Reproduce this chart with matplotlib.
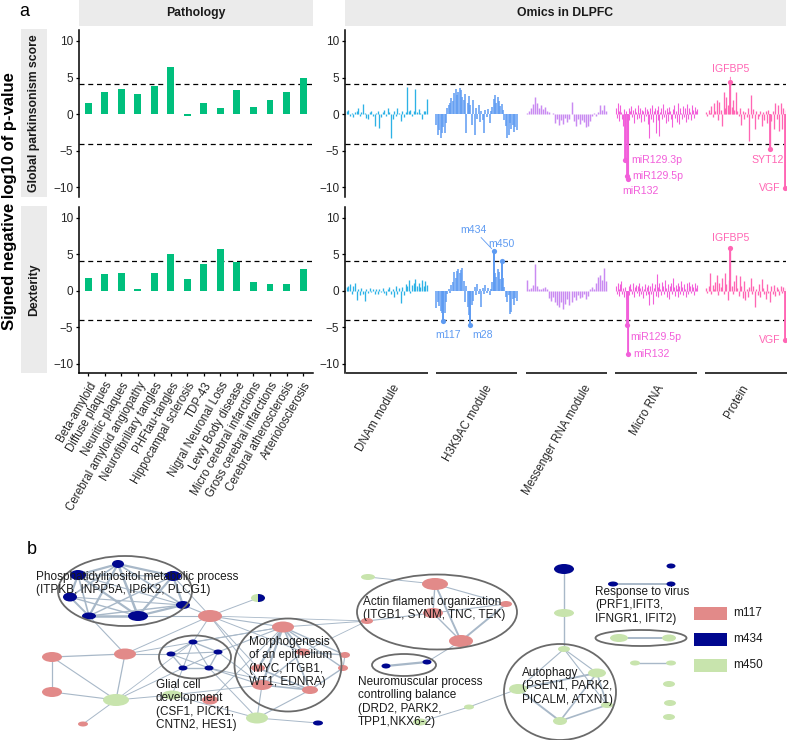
import matplotlib
matplotlib.use('Agg')
import matplotlib.pyplot as plt
import matplotlib.transforms as mtransforms
import numpy as np
from matplotlib.patches import Ellipse, Rectangle

plt.rcParams['font.family'] = ['Liberation Sans', 'DejaVu Sans']

# ---------------- DATA ----------------
pathology_categories = ["Beta-amyloid", "Diffuse plaques", "Neuritic plaques",
                        "Cerebral amyloid angiopathy", "Neurofibrillary tangles",
                        "PHFtau-tangles", "Hippocampal sclerosis", "TDP-43",
                        "Nigral Neuronal Loss", "Lewy Body disease",
                        "Micro cerebral infarctions", "Gross cerebral infarctions",
                        "Cerebral atherosclerosis", "Arteriolosclerosis"]
pathology_global = [1.57, 3.0, 3.4, 2.8, 3.8, 6.5, -0.2, 1.6, 0.9, 3.3, 1.0, 2.0, 3.0, 5.0]
pathology_dexterity = [1.7, 2.3, 2.5, 0.25, 2.4, 5.0, 1.55, 3.7, 5.7, 3.9, 1.25, 0.9, 0.95, 3.0]

omics_groups = ["DNAm module", "H3K9AC module", "Messenger RNA module", "Micro RNA", "Protein"]

dnam_global = [0.4, 0.6, -0.3, 0.2, -0.4, 0.3, 0.5, 0.9, -0.2, 0.3,
               1.4, 0.2, -0.5, -0.7, 0.3, 0.4, -0.3, -1.6, 0.2, 0.5,
               -1.9, -0.4, 0.3, 0.6, -0.2, 0.8, 0.3, -3.3, -0.6, 0.4,
               -0.3, 0.9, 0.2, -0.9, 0.5, -0.4, 0.3, 3.7, 0.4, 0.6,
               -0.3, 0.5, 3.4, 0.3, 0.7, 0.2, -0.6, 0.5, 0.4, 2.1]
dnam_dexterity = [0.5, 0.7, 0.9, -0.4, 0.6, 1.0, -1.3, 0.3, -0.6, 0.4,
                  -0.5, -1.4, 0.2, -0.3, 0.4, -0.2, 0.3, -0.4, 0.2, -0.5,
                  0.3, -0.2, 0.4, -0.3, -0.6, 0.2, 0.5, -0.4, 0.3, -0.8,
                  0.6, -0.5, 0.4, -1.7, 0.5, -0.6, 0.9, 0.7, 1.5, -0.3,
                  0.8, 1.1, 1.6, 0.6, 1.0, 0.5, 1.5, 0.7, 1.3, 0.8]
h3k9ac_global = [-1.5, -2.8, -2.2, -3.2, -2.5, -1.8, -2.6, -1.2, 0.8, 1.2,
                 1.5, 2.2, 1.8, 2.9, 3.4, 2.6, 3.1, 3.6, 3.3, 2.4,
                 2.0, 2.7, -2.6, 1.6, 2.5, 1.2, -1.5, 2.0, -2.8, 0.8,
                 -0.6, 1.2, -1.0, 0.5, -0.8, -2.5, 0.6, -0.4, 0.7, -1.2,
                 0.5, 1.0, 2.1, 2.6, 1.6, 2.3, 1.8, 1.1, 1.4, 0.6,
                 -0.8, -1.6, -3.3, -2.9, -1.2, -2.0, -1.5, -2.4, -1.8, -2.2]
h3k9ac_dexterity = [-2.4, -1.5, -2.1, -2.8, -3.0, -4.1, -3.1, -1.6, -0.4, 0.3,
                    -0.3, 0.8, 1.2, 2.6, 1.8, 2.7, 3.0, 2.4, 2.8, 3.1,
                    1.4, -1.5, 0.6, -2.2, -3.3, -4.7, -2.0, -1.4, 0.5, -0.6,
                    0.9, -0.4, 0.3, -2.3, 0.4, -0.5, 0.8, -0.3, 0.4, -0.6,
                    0.3, 1.2, 5.5, 2.5, 1.9, 3.0, 2.6, 1.6, 4.1, 1.8,
                    0.5, -0.8, -1.5, -0.6, -3.2, -2.9, -1.2, -2.0, -1.0, -1.4]
mrna_global = [0.2, 0.5, 0.9, 1.4, 2.3, 1.6, 0.8, 1.3, 0.7, 1.0,
               0.5, 0.3, 0.1, 0.2, -1.2, -0.6, -1.5, -0.8, -1.3, -0.5,
               -1.1, -0.7, 1.7, -0.9, -1.6, -0.6, -1.3, -0.8, -1.1, -1.8,
               -1.6, -0.9, -0.3, 0.2, -0.2, 0.3, 1.3, 0.6, 1.3, 0.5]
mrna_dexterity = [1.5, 0.3, 0.4, 0.8, 3.7, 0.7, 0.2, 0.3, 0.4, 0.5,
                  0.3, -1.0, -1.4, -0.9, -1.5, -1.9, -2.2, -1.6, -2.5, -1.8,
                  -1.2, -2.0, -1.6, -0.9, -1.3, -0.6, -1.0, -0.8, -0.4, -1.1,
                  -0.7, 0.3, 0.5, 0.2, 1.1, 1.9, 2.2, 1.5, 3.1, 1.4]
mirna_global = [0.8, -0.5, 1.6, 0.4, -0.9, 1.2, 0.3, -0.6, -1.6, 0.7,
                -6.3, 0.5, -8.5, -8.9, 0.9, -0.8, 0.4, 1.1, -0.4, 0.6,
                -1.2, 0.9, 0.3, -0.7, 1.3, 0.2, -0.5, 0.8, -1.0, 0.6,
                0.4, -0.9, 1.0, -0.3, 0.7, -1.4, 0.5, -3.3, 0.9, -0.6,
                1.2, -1.1, 0.4, 0.8, -2.6, 0.6, -0.8, 1.1, -3.0, 0.3,
                0.9, -0.7, 1.4, -0.4, 0.6, -1.2, 0.8, 0.3, -0.9, 1.0,
                0.5, -0.6, -1.8, 0.7, 1.3, -0.5, 0.4, -1.0, 1.5, 0.6,
                -1.3, 0.9, 0.2, -0.7, 1.1, -0.4, 0.8, -1.1, 0.5, 1.4,
                -0.6, 0.9, 0.3, -0.8, 1.2, 0.6, -0.5, 1.0, 0.4, 0.7]
mirna_dexterity = [0.6, -0.4, 1.0, 0.3, -0.7, 0.9, 1.3, -0.5, 0.4, -0.8,
                   0.5, -1.2, -4.7, -8.7, 0.7, -0.6, 0.9, 0.3, -0.4, 1.1,
                   -0.9, 0.5, 0.8, -0.3, 0.6, -0.7, 1.0, 0.4, -0.5, 0.7,
                   -1.0, 0.3, 0.9, -0.6, 0.5, -0.4, 0.8, -2.0, 0.6, -0.5,
                   1.1, -1.8, 0.4, 0.9, -0.7, 2.3, 0.5, -0.9, 1.0, 0.3,
                   -0.6, 1.2, 0.7, -0.4, 1.5, 0.4, -0.8, 0.9, 0.2, -1.1,
                   0.6, 1.0, -0.5, 1.8, 0.5, -0.7, 0.8, 0.3, -0.9, 1.1,
                   0.6, -0.4, 1.3, 0.5, -0.6, 0.9, 0.3, -0.8, 1.0, 0.4,
                   -0.5, 1.2, 0.7, -0.3, 0.9, 0.5, -0.6, 1.1, 0.4, 0.8]
protein_global = [0.3, -0.2, 0.6, 0.2, 1.1, -0.4, 1.6, 0.5, 2.0, -0.8,
                  1.7, 0.6, -1.6, 3.1, 0.9, 2.4, 1.2, 0.4, 4.35, 1.0,
                  2.0, 0.6, 3.1, 0.5, -0.3, 0.8, -1.5, 0.4, -0.6, 0.3,
                  -0.4, 0.8, -3.6, 2.6, -0.5, 0.7, -2.0, 0.4, -0.7, -0.3,
                  0.5, -1.6, 0.3, -0.8, 0.4, -1.2, 0.6, -4.7, -0.9, 0.5,
                  -2.0, 1.5, -0.6, 1.3, -2.3, 1.5, -2.0, 0.8, -10.1, 0.6]
protein_dexterity = [0.4, -0.3, 0.6, 2.5, -0.5, 0.8, 0.3, 1.2, 2.2, -0.6,
                     1.0, 0.5, 1.8, -0.4, 2.5, 0.9, -1.3, 1.5, 5.8, 0.7,
                     -0.5, 1.4, 2.1, 0.4, -0.7, 2.0, 0.6, -1.0, 1.3, -1.3,
                     0.3, -0.8, 0.5, 1.8, -0.4, 0.6, -2.2, 0.3, -0.6, 0.9,
                     -0.9, 1.6, 0.4, -0.5, -1.2, 0.9, -0.3, -1.5, 0.6, -0.4,
                     0.8, -0.7, 0.5, 0.3, -0.6, 0.7, -0.3, 0.5, -6.7, 0.4]

omics_global = [dnam_global, h3k9ac_global, mrna_global, mirna_global, protein_global]
omics_dexterity = [dnam_dexterity, h3k9ac_dexterity, mrna_dexterity, mirna_dexterity, protein_dexterity]

# labelled features: (group index, feature index, name)
labels_global = [(3, 10, "miR129.3p"), (3, 12, "miR129.5p"), (3, 13, "miR132"),
                 (4, 18, "IGFBP5"), (4, 47, "SYT12"), (4, 58, "VGF")]
labels_dexterity = [(1, 42, "m434"), (1, 48, "m450"), (1, 5, "m117"), (1, 25, "m28"),
                    (3, 12, "miR129.5p"), (3, 13, "miR132"),
                    (4, 18, "IGFBP5"), (4, 58, "VGF")]

significance_threshold = 4.08

# network (panel b)
node_x = [118, 78, 173, 70, 183, 89, 138, 193, 171, 218, 183, 209, 52, 125, 52, 83, 116, 172, 210, 257,
          318, 210, 258, 283, 345, 343, 262, 310, 303, 258, 368, 367, 435, 433, 506, 461, 386, 427, 469, 420,
          564, 597, 518, 607, 560, 564, 564, 671, 613, 671, 619, 669, 635, 671, 669, 670, 669]
node_y = [564, 575, 576, 597, 605, 616, 616, 642, 654, 652, 668, 668, 657, 654, 692, 724, 700, 695, 700, 718,
          723, 616, 598, 627, 655, 668, 685, 690, 652, 668, 577, 621, 584, 613, 604, 641, 666, 662, 707, 722,
          649, 673, 689, 705, 721, 569, 613, 566, 584, 584, 638, 638, 663, 663, 684, 703, 717]
node_w = [12, 16, 16, 14, 14, 14, 20, 9, 9, 9, 9, 9, 20, 22, 20, 10, 26, 20, 16, 22,
          10, 24, 14, 22, 10, 10, 20, 16, 14, 14, 14, 12, 26, 20, 12, 24, 9, 9, 10, 14,
          12, 18, 18, 12, 14, 20, 20, 9, 10, 9, 18, 14, 10, 10, 12, 12, 12]
node_h = [8, 10, 10, 9, 8, 7, 10, 5, 5, 5, 5, 5, 10, 11, 10, 5, 12, 9, 9, 11,
          5, 12, 8, 11, 6, 6, 10, 8, 7, 7, 6, 6, 12, 10, 6, 12, 5, 5, 5, 7,
          6, 9, 10, 6, 8, 10, 8, 5, 5, 5, 8, 7, 5, 5, 6, 6, 6]
node_module = ["m434"] * 12 + ["m117", "m117", "m117", "m117", "m450", "m450", "m117", "m450",
               "m434", "m117", "mix", "m117", "m117", "m117", "m117", "m117", "m117", "m117",
               "m450", "m117", "m117", "m117", "m117", "m117", "m434", "m434", "m450", "m450",
               "m450", "m450", "m450", "m450", "m450", "m434", "m450", "m434", "m434", "m434",
               "m450", "m450", "m450", "m450", "m450", "m450", "m450"]
network_edges = [(0, 1, 1.6), (0, 2, 1.6), (0, 3, 1.2), (0, 4, 1.2), (0, 5, 1.6), (0, 6, 1.8),
                 (1, 3, 1.6), (1, 5, 1.2), (1, 6, 1.6), (1, 2, 1.0), (2, 4, 1.6), (2, 6, 1.6),
                 (2, 5, 1.0), (3, 5, 1.4), (3, 6, 1.0), (4, 6, 1.6), (4, 5, 1.0), (5, 6, 1.8),
                 (3, 4, 0.8), (1, 4, 0.8),
                 (4, 21, 0.8), (6, 21, 0.8), (2, 21, 0.7), (5, 13, 0.8),
                 (7, 8, 1.0), (7, 9, 1.0), (7, 10, 0.8), (7, 11, 0.8), (8, 10, 1.0), (8, 11, 0.8),
                 (9, 11, 1.0), (9, 10, 0.8), (8, 9, 0.8), (10, 11, 1.0),
                 (8, 13, 0.8), (10, 16, 0.7), (11, 19, 0.7), (9, 23, 0.8), (7, 21, 0.7),
                 (11, 26, 0.8), (10, 17, 0.7), (7, 23, 0.7), (9, 26, 0.7), (11, 27, 0.7),
                 (12, 13, 0.9), (12, 14, 0.9), (12, 16, 0.8), (13, 16, 0.9), (14, 16, 0.8),
                 (15, 16, 0.7), (13, 21, 0.7), (13, 23, 0.7), (16, 17, 0.7), (16, 7, 0.6),
                 (23, 26, 1.6), (23, 27, 1.2), (23, 24, 1.0), (23, 25, 1.0), (23, 28, 1.4),
                 (23, 29, 1.6), (26, 27, 1.2), (28, 24, 1.0), (29, 27, 1.2), (24, 25, 0.8),
                 (26, 28, 1.0), (27, 25, 1.0),
                 (21, 23, 0.8), (21, 26, 0.7), (21, 28, 0.7), (21, 29, 0.7), (22, 21, 0.7),
                 (23, 31, 0.7), (21, 31, 0.6), (28, 31, 0.6), (30, 32, 0.7),
                 (19, 26, 0.8), (19, 27, 0.8), (19, 20, 0.7), (17, 26, 0.7), (17, 19, 0.7),
                 (18, 23, 0.7),
                 (32, 33, 1.0), (32, 34, 0.8), (32, 35, 1.4), (33, 35, 1.0), (34, 35, 1.4),
                 (33, 34, 0.7), (31, 33, 0.8), (35, 37, 0.7), (36, 37, 1.6),
                 (38, 42, 0.7), (39, 38, 0.7), (42, 41, 1.4), (42, 40, 0.8), (40, 41, 0.8),
                 (40, 43, 0.8), (41, 44, 1.2), (42, 44, 1.4), (43, 44, 1.2), (41, 43, 1.2),
                 (40, 46, 1.0), (46, 45, 1.0), (48, 49, 1.4), (50, 51, 1.4), (52, 53, 1.0)]
cluster_cx = [125, 195, 288, 437, 404, 560, 641]
cluster_cy = [591, 657, 665, 612, 665, 692, 638]
cluster_w = [134, 72, 107, 160, 64, 112, 91]
cluster_h = [70, 43, 93, 75, 22, 96, 16]
cluster_text = ["Phosphatidylinositol metabolic process\n(ITPKB, INPP5A, IP6K2, PLCG1)",
                "Glial cell\ndevelopment\n(CSF1, PICK1,\nCNTN2, HES1)",
                "Morphogenesis\nof an epithelium\n(MYC, ITGB1,\nWT1, EDNRA)",
                "Actin filament organization\n(ITGB1, SYNM, TNC, TEK)",
                "Neuromuscular process\ncontrolling balance\n(DRD2, PARK2,\nTPP1,NKX6-2)",
                "Autophagy\n(PSEN1, PARK2,\nPICALM, ATXN1)",
                "Response to virus\n(PRF1,IFIT3,\nIFNGR1, IFIT2)"]
cluster_text_x = [36, 156, 249, 363, 358, 522, 595]
cluster_text_y = [578, 686, 643, 603, 683, 674, 593]
legend_modules = ["m117", "m434", "m450"]

# ---------------- STYLE ----------------
W, H = 790, 740
PATH_COLOR = '#00BF7D'
GROUP_COLORS = ['#2DB2E6', '#5E9BF2', '#C98AF2', '#F25FDA', '#FF66B4']
LINE_W = [0.95, 1.1, 1.05, 0.8, 0.95]
GAP = 0.1
STRIP = '#EBEBEB'
TICK_COL = '#262626'
MOD_COLORS = {'m117': '#E28A89', 'm434': '#00078F', 'm450': '#C8E4AD'}
EDGE_COLOR = '#A8B8C8'
YLIM = (-11.3, 11.5)

fig = plt.figure(figsize=(W / 100, H / 100), dpi=100)


def px_box(x0, y0, x1, y1):
    return [x0 / W, 1 - y1 / H, (x1 - x0) / W, (y1 - y0) / H]


def strip(box, text, rotation=0):
    a = fig.add_axes(px_box(*box))
    a.set_facecolor(STRIP)
    a.set_xticks([])
    a.set_yticks([])
    for s in a.spines.values():
        s.set_visible(False)
    a.text(0.5, 0.5, text, rotation=rotation, ha='center', va='center',
           fontsize=8.8, fontweight='bold', color='#1A1A1A', transform=a.transAxes)


def base_style(ax):
    ax.set_ylim(*YLIM)
    ax.set_yticks([-10, -5, 0, 5, 10])
    ax.spines['top'].set_visible(False)
    ax.spines['right'].set_visible(False)
    ax.spines['left'].set_linewidth(1.1)
    ax.spines['bottom'].set_linewidth(1.1)
    ax.tick_params(axis='y', length=2.5, width=0.9, pad=1.5, labelsize=8.5, labelcolor=TICK_COL)
    ax.patch.set_alpha(0)
    for t in (significance_threshold, -significance_threshold):
        ax.axhline(t, color='black', lw=0.9, ls=(0, (4, 3)), zorder=0.5)


strip((79, 0, 313, 26), "Pathology")
strip((345, 0, 786, 26), "Omics in DLPFC")

rows = [("Global parkinsonism score", pathology_global, omics_global, labels_global, 30, 197),
        ("Dexterity", pathology_dexterity, omics_dexterity, labels_dexterity, 207, 373)]

label_style = {
    0: {"miR129.3p": (6, 0, 'left', False), "miR129.5p": (6, 0, 'left', False),
        "miR132": (-5, 12, 'left', False), "IGFBP5": (0, -13, 'center', True),
        "SYT12": (-2, 11, 'center', False), "VGF": (-4, 0, 'right', False)},
    1: {"m434": (-20, -21, 'center', True), "m450": (0, -17, 'center', False),
        "m117": (5, 14, 'center', False), "m28": (12, 10, 'center', False),
        "miR129.5p": (4, 12, 'left', False), "miR132": (6, 0, 'left', False),
        "IGFBP5": (0, -10, 'center', False), "VGF": (-4, 0, 'right', False)},
}

for r, (row_name, pvals, ovals, labs, top, bot) in enumerate(rows):
    strip((21, top - 1, 47, bot), row_name, rotation=90)

    # pathology panel
    axL = fig.add_axes(px_box(79, top, 313, bot))
    xs = np.arange(len(pathology_categories))
    axL.bar(xs, pvals, width=0.42, color=PATH_COLOR, linewidth=0, zorder=2)
    axL.set_xlim(-0.55, 13.6)
    base_style(axL)
    if r == 0:
        axL.spines['bottom'].set_visible(False)
        axL.set_xticks([])
    else:
        axL.set_xticks(xs)
        axL.set_xticklabels(pathology_categories, rotation=60, ha='right', va='top',
                            rotation_mode='anchor')
        axL.tick_params(axis='x', length=2.5, width=0.9, pad=2.5, labelsize=8.3,
                        labelcolor=TICK_COL)

    # omics panel
    axR = fig.add_axes(px_box(345, top, 786, bot))
    base_style(axR)
    axR.spines['bottom'].set_visible(False)
    centers = []
    positions = []
    for g, vals in enumerate(ovals):
        n = len(vals)
        start = g * (1 + GAP)
        x = start + (np.arange(n) + 0.5) / n
        positions.append(x)
        centers.append(start + 0.5)
        axR.vlines(x, 0, vals, color=GROUP_COLORS[g], lw=LINE_W[g], zorder=2)
        if r == 1:
            trans = mtransforms.blended_transform_factory(axR.transData, axR.transAxes)
            axR.plot([start, start + 1], [0, 0], transform=trans, color='black', lw=1.1,
                     clip_on=False, solid_capstyle='butt')
    axR.set_xlim(-0.012, 5 * (1 + GAP) - GAP - 0.01)

    for g, i, name in labs:
        xv = positions[g][i]
        yv = ovals[g][i]
        c = GROUP_COLORS[g]
        axR.vlines(xv, 0, yv, color=c, lw=1.3, zorder=3)
        axR.scatter([xv], [yv], s=14, color=c, zorder=4, linewidths=0)
        dx, dy, ha, leader = label_style[r][name]
        kw = {}
        if leader:
            kw['arrowprops'] = dict(arrowstyle='-', color=c, lw=0.6, shrinkA=0, shrinkB=2)
        axR.annotate(name, (xv, yv), xytext=(dx, -dy), textcoords='offset pixels',
                     ha=ha, va='center', fontsize=7.6, color=c, zorder=5, **kw)

    if r == 0:
        axR.set_xticks([])
    else:
        axR.set_xticks(centers)
        axR.set_xticklabels(omics_groups, rotation=60, ha='center', va='top')
        axR.tick_params(axis='x', length=0, pad=7, labelsize=8.3, labelcolor=TICK_COL)
        off = mtransforms.ScaledTranslation(-9 / 100, 0, fig.dpi_scale_trans)
        for lbl in axR.get_xticklabels():
            lbl.set_transform(lbl.get_transform() + off)

fig.text(10 / W, 1 - 201 / H, "Signed negative log10 of p-value", rotation=90,
         ha='center', va='center', fontsize=12, fontweight='bold', color='black')
fig.text(24 / W, 1 - 12 / H, "a", ha='center', va='center', fontsize=13)
fig.text(32 / W, 1 - 550 / H, "b", ha='center', va='center', fontsize=13)

# ---------------- NETWORK ----------------
axN = fig.add_axes(px_box(0, 500, 790, 740))
axN.set_xlim(0, 790)
axN.set_ylim(740, 500)
axN.axis('off')
axN.patch.set_alpha(0)

for i, j, w in network_edges:
    axN.plot([node_x[i], node_x[j]], [node_y[i], node_y[j]], color=EDGE_COLOR, lw=w,
             zorder=1, solid_capstyle='round')

for k in range(len(node_x)):
    mod = node_module[k]
    if mod == 'mix':
        e1 = Ellipse((node_x[k], node_y[k]), node_w[k], node_h[k],
                     facecolor=MOD_COLORS['m450'], edgecolor='none', zorder=2)
        axN.add_patch(e1)
        e2 = Ellipse((node_x[k], node_y[k]), node_w[k], node_h[k],
                     facecolor=MOD_COLORS['m434'], edgecolor='none', zorder=2.1)
        axN.add_patch(e2)
        clip = Rectangle((node_x[k], node_y[k] - node_h[k]), node_w[k], 2 * node_h[k],
                         transform=axN.transData)
        e2.set_clip_path(clip)
    else:
        axN.add_patch(Ellipse((node_x[k], node_y[k]), node_w[k], node_h[k],
                              facecolor=MOD_COLORS[mod], edgecolor='none', zorder=2))

for cx, cy, cw, ch in zip(cluster_cx, cluster_cy, cluster_w, cluster_h):
    axN.add_patch(Ellipse((cx, cy), cw, ch, facecolor='none', edgecolor='#6A6A6A',
                          lw=1.3, zorder=3))

for txt, tx, ty in zip(cluster_text, cluster_text_x, cluster_text_y):
    axN.text(tx, ty - 7, txt, ha='left', va='top', fontsize=8.5, color='#1A1A1A',
             linespacing=1.15, zorder=4)

for m, mod in enumerate(legend_modules):
    y0 = 607 + 26 * m
    axN.add_patch(Rectangle((694, y0), 33, 12.5, facecolor=MOD_COLORS[mod], edgecolor='none',
                            zorder=3))
    axN.text(733, y0 + 6.5, mod, ha='left', va='center', fontsize=8.5, color='#1A1A1A')

fig.savefig('out.png', dpi=100)
